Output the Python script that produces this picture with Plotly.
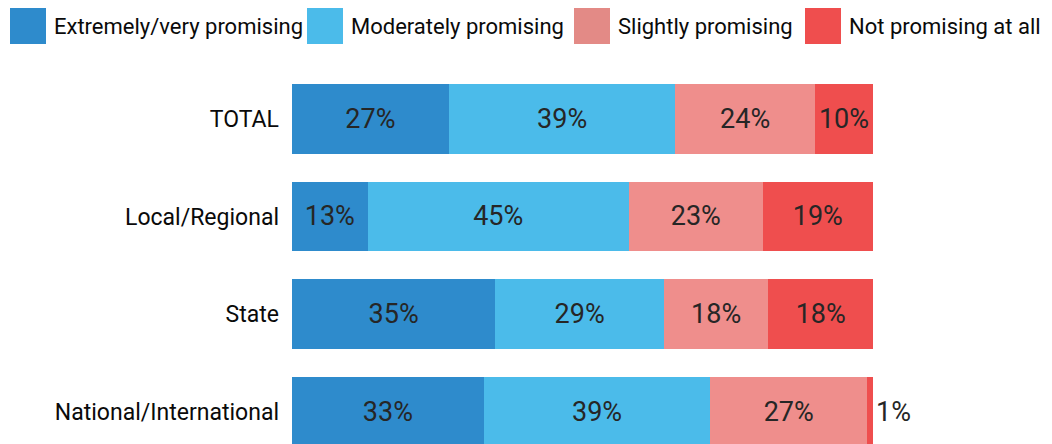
import plotly.graph_objects as go

categories = ["TOTAL", "Local/Regional", "State", "National/International"]
series_names = ["Extremely/very promising", "Moderately promising", "Slightly promising", "Not promising at all"]
extremely = [27, 13, 35, 33]
moderately = [39, 45, 29, 39]
slightly = [24, 23, 18, 27]
not_at_all = [10, 19, 18, 1]
values = [extremely, moderately, slightly, not_at_all]
colors = ["#2E8BCC", "#4BBBEA", "#EF8E8C", "#EF4E4E"]
legend_colors = ["#2E8BCC", "#4BBBEA", "#E38A86", "#EF4E4E"]

# page body has an 8px margin, so figure coords = reference coords - 8
OFF = 8
W, H = 1052 - OFF, 444 - OFF
L, R, T, B = 292 - OFF, 1052 - 873, 70 - OFF, 0
PW, PH = W - L - R, H - T - B

pct_font = dict(family="Roboto, sans-serif", size=27, color="#262626")

fig = go.Figure()
for i, (name, vals, col) in enumerate(zip(series_names, values, colors)):
    if i == 3:
        pos = ["outside" if v < 3 else "inside" for v in vals]
    else:
        pos = "inside"
    fig.add_trace(go.Bar(
        y=categories, x=vals, name=name, orientation="h",
        marker=dict(color=col, line=dict(width=0)),
        text=[f"{v}%" for v in vals], textposition=pos, textangle=0,
        insidetextanchor="middle", textfont=pct_font,
        insidetextfont=pct_font, outsidetextfont=pct_font,
        constraintext="none", cliponaxis=False,
        width=0.714, showlegend=False, hoverinfo="skip",
    ))

def px2paper_x(px):
    return (px - OFF - L) / PW

def px2paper_y(py):
    return 1 + (T - (py - OFF)) / PH

# custom legend with large square swatches
sw_x = [10, 307, 574, 805]
for x0, name, col in zip(sw_x, series_names, legend_colors):
    fig.add_shape(type="rect", xref="paper", yref="paper",
                  x0=px2paper_x(x0), x1=px2paper_x(x0 + 36),
                  y0=px2paper_y(44), y1=px2paper_y(8),
                  fillcolor=col, line=dict(width=0), layer="above")
    fig.add_annotation(xref="paper", yref="paper", x=px2paper_x(x0 + 42),
                       y=px2paper_y(27), text=name, showarrow=False,
                       xanchor="left", yanchor="middle",
                       font=dict(family="Roboto, sans-serif", size=22, color="#0a0a0a"))

fig.update_layout(
    barmode="stack", width=W, height=H,
    margin=dict(l=L, r=R, t=T, b=B, pad=0),
    paper_bgcolor="white", plot_bgcolor="white",
    xaxis=dict(range=[0, 100], visible=False, fixedrange=True),
    yaxis=dict(categoryorder="array", categoryarray=categories, range=[3.33, -0.5],
               showgrid=False, zeroline=False, showline=False, ticks="",
               ticklabelstandoff=12,
               tickfont=dict(family="Roboto, sans-serif", size=23, color="#0a0a0a")),
)
fig.write_html("out.html")
